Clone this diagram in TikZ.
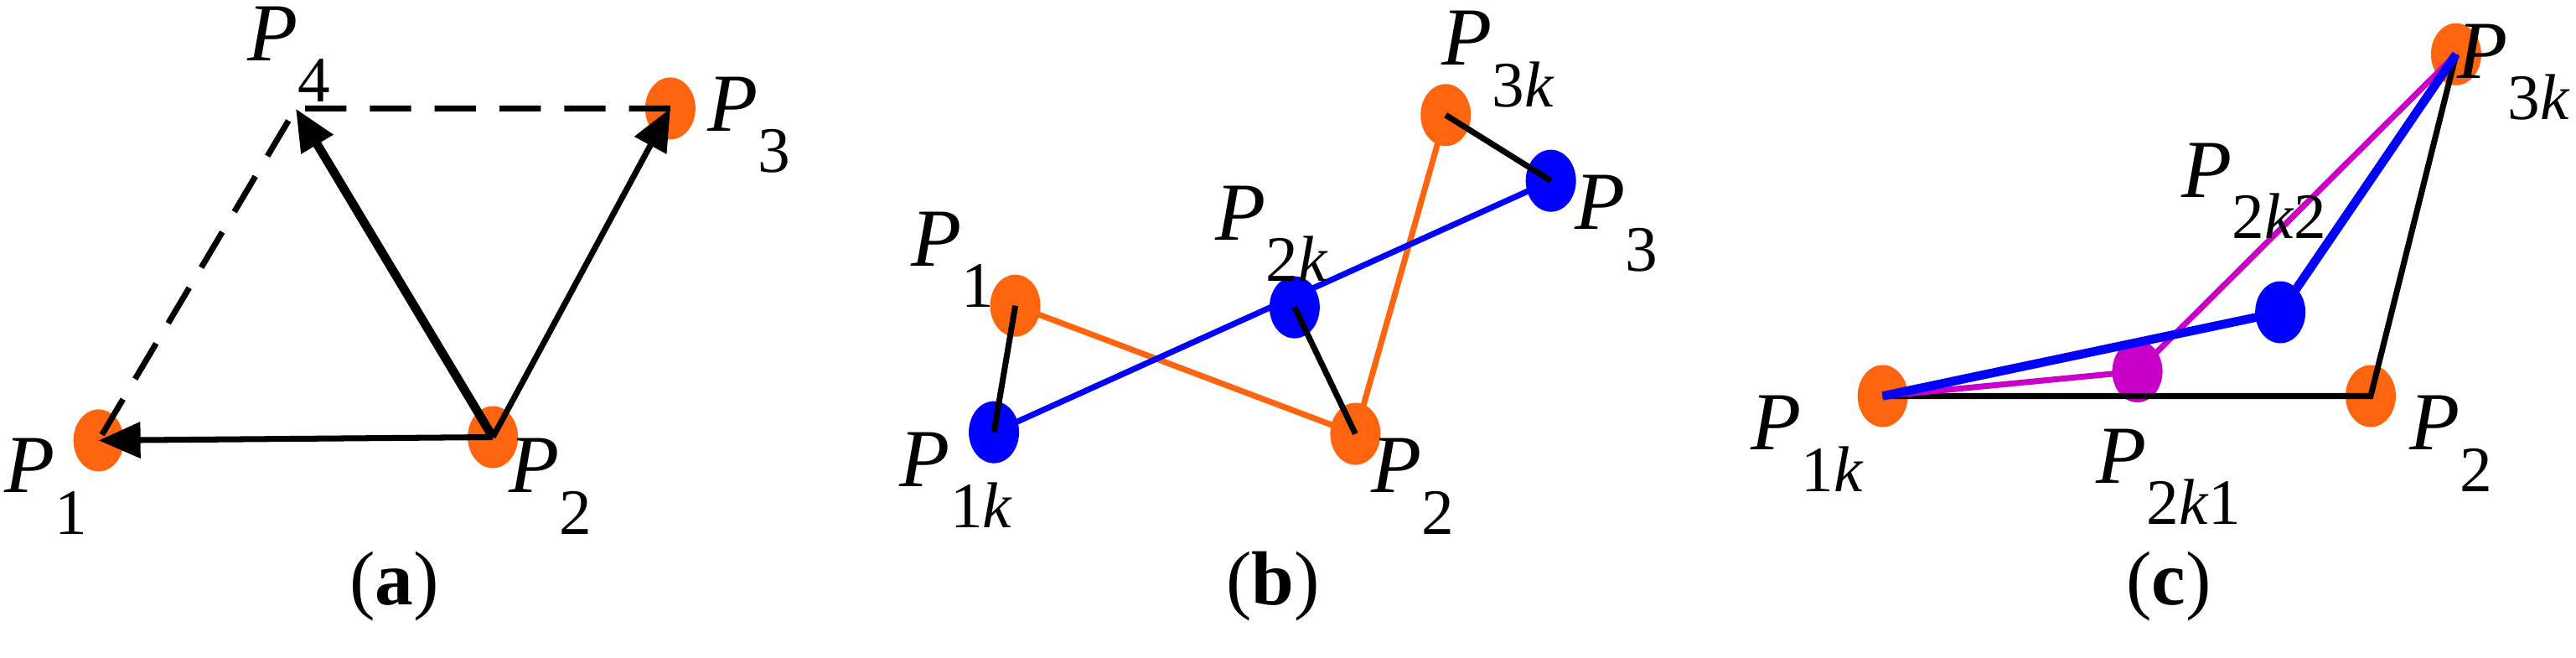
\documentclass[tikz,border=0pt]{standalone}
\usepackage{fontspec}
\setmainfont{Liberation Serif}
\usetikzlibrary{shapes.geometric,arrows.meta}
\definecolor{ptorange}{RGB}{255,100,15}
\definecolor{ptblue}{RGB}{0,0,255}
\definecolor{ptmagenta}{RGB}{200,0,200}
\newcommand{\pname}[1]{\textit{P}\raisebox{-0.5em}{\fontsize{22}{24}\selectfont #1}}
\tikzset{
  dot/.style={ellipse, fill=#1, inner sep=0pt, minimum width=0.6cm, minimum height=0.74cm},
  lbl/.style={font=\fontsize{28}{32}\selectfont, inner sep=0pt},
  subcap/.style={font=\fontsize{26}{30}\selectfont},
  ln/.style={line width=2pt},
  lnthick/.style={line width=3pt},
  tip/.style={-{Triangle[length=0.5cm,width=0.42cm]}}
}
\begin{document}
\begin{tikzpicture}[x=0.0196cm,y=-0.0196cm]
  \useasboundingbox (0,0) rectangle (1568,400);

  % (a)
  \node[dot=ptorange] (a1) at (60,268) {};
  \node[dot=ptorange] (a2) at (300,266) {};
  \node[dot=ptorange] (a3) at (408,66) {};
  \coordinate (a4) at (180,66);
  \draw[ln, dash pattern=on 14pt off 8pt] (a3.center) -- (a4) -- (a1.center);
  \draw[ln, tip] (a2.center) -- (a1.center);
  \draw[lnthick, tip] (a2.center) -- (a4);
  \draw[ln, tip] (a2.center) -- (a3.center);
  \node[lbl] (la4) at (176,33) {\pname{4}};
  \node[lbl] (la3) at (456,76) {\pname{3}};
  \node[lbl] (la1) at (28,296) {\pname{1}};
  \node[lbl] (la2) at (335,296) {\pname{2}};
  \node[subcap] (capa) at (240,357) {(\textbf{a})};

  % (b)
  \coordinate (b1) at (618,186);
  \coordinate (b1k) at (605,263);
  \coordinate (b2k) at (788,187);
  \coordinate (b2) at (825,264);
  \coordinate (b3k) at (880,70);
  \coordinate (b3) at (944,110);
  \draw[ln, ptorange] (b1) -- (b2) -- (b3k);
  \draw[ln, ptblue] (b1k) -- (b3);
  \node[dot=ptorange] (d1) at (b1) {};
  \node[dot=ptblue] (d1k) at (b1k) {};
  \node[dot=ptblue] (d2k) at (b2k) {};
  \node[dot=ptorange] (d2) at (b2) {};
  \node[dot=ptorange] (d3k) at (b3k) {};
  \node[dot=ptblue] (d3) at (b3) {};
  \draw[ln] (b1) -- (b1k);
  \draw[ln] (b2k) -- (b2);
  \draw[ln] (b3k) -- (b3);
  \node[lbl] (lb1) at (580,158) {\pname{1}};
  \node[lbl] (lb1k) at (582,292) {\pname{1\textit{k}}};
  \node[lbl] (lb2k) at (774,142) {\pname{2\textit{k}}};
  \node[lbl] (lb2) at (860,296) {\pname{2}};
  \node[lbl] (lb3k) at (912,36) {\pname{3\textit{k}}};
  \node[lbl] (lb3) at (984,136) {\pname{3}};
  \node[subcap] (capb) at (775,357) {(\textbf{b})};

  % (c)
  \node[dot=ptorange] (c1k) at (1146,241) {};
  \node[dot=ptorange] (c2) at (1443,241) {};
  \node[dot=ptorange] (c3k) at (1495,33) {};
  \node[dot=ptmagenta] (c2k1) at (1301,226) {};
  \node[dot=ptblue] (c2k2) at (1388,190) {};
  \draw[ln] (c1k.center) -- (c2.center) -- (c3k.center);
  \draw[ln, ptmagenta] (c1k.center) -- (c2k1.center) -- (c3k.center);
  \draw[lnthick, ptblue] (c1k.center) -- (c2k2.center) -- (c3k.center);
  \node[lbl] (lc1k) at (1100,270) {\pname{1\textit{k}}};
  \node[lbl] (lc2k1) at (1320,290) {\pname{2\textit{k}1}};
  \node[lbl] (lc2) at (1492,270) {\pname{2}};
  \node[lbl] (lc3k) at (1530,44) {\pname{3\textit{k}}};
  \node[lbl] (lc2k2) at (1372,116) {\pname{2\textit{k}2}};
  \node[subcap] (capc) at (1320,357) {(\textbf{c})};
\end{tikzpicture}
\end{document}
